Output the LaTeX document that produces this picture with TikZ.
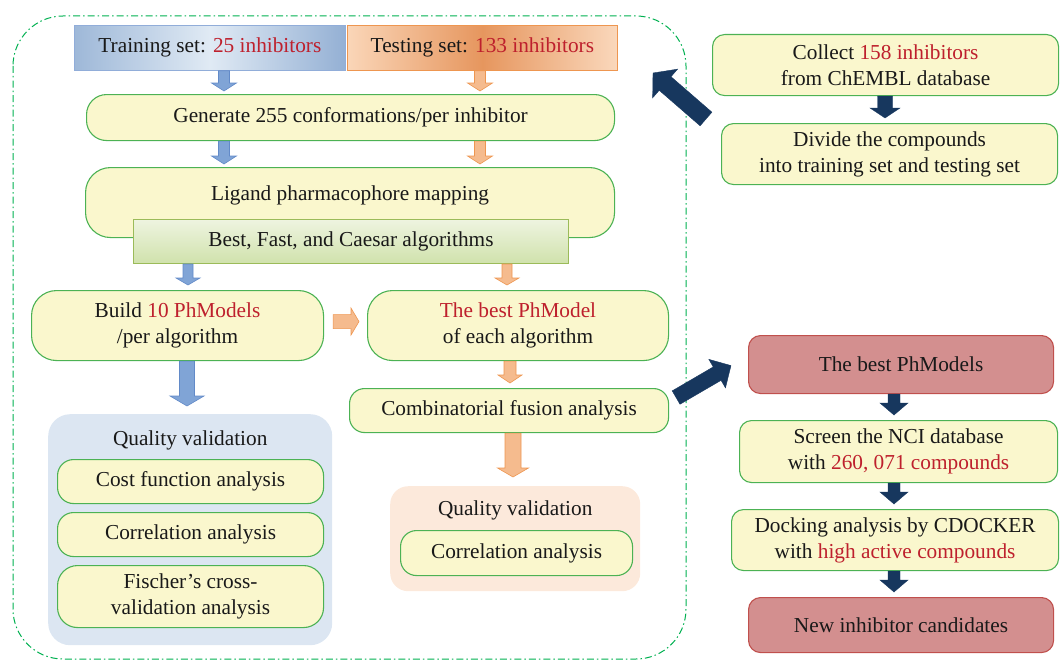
\documentclass[tikz,border=0pt]{standalone}
\usepackage{fontspec}
\setmainfont{Liberation Serif}
\usetikzlibrary{calc}
\definecolor{yfill}{RGB}{250,247,205}
\definecolor{gborder}{RGB}{76,178,84}
\definecolor{redtxt}{RGB}{190,32,45}
\definecolor{navy}{RGB}{23,55,94}
\definecolor{barrfill}{RGB}{128,164,214}
\definecolor{barredge}{RGB}{98,138,200}
\definecolor{oarrfill}{RGB}{245,187,142}
\definecolor{oarredge}{RGB}{238,150,80}
\definecolor{panelb}{RGB}{220,230,242}
\definecolor{panelo}{RGB}{252,233,219}
\definecolor{rfill}{RGB}{211,143,143}
\definecolor{rborder}{RGB}{192,80,77}
\definecolor{dashgreen}{RGB}{0,176,80}
\definecolor{txt}{RGB}{25,25,25}
\definecolor{tl}{RGB}{158,184,216}
\definecolor{tm}{RGB}{224,234,244}
\definecolor{tr}{RGB}{148,176,212}
\definecolor{ol}{RGB}{250,214,184}
\definecolor{om}{RGB}{230,150,94}
\definecolor{or}{RGB}{250,216,188}
\newcommand\redt[1]{\textcolor{redtxt}{#1}}
% block arrow: style, from, to, shaft width, head width, head length
\newcommand\barrow[6]{%
  \path let \p1=(#2), \p2=(#3), \n1={atan2(\y2-\y1,\x2-\x1)}, \n2={veclen(\x2-\x1,\y2-\y1)} in
    \pgfextra{\xdef\baA{\n1}\xdef\baL{\n2}\xdef\baX{\x1}\xdef\baY{\y1}};
  \draw[#1, shift={(\baX,\baY)}, rotate=\baA]
    (0pt,{-0.5*#4pt}) -- ({\baL-#6pt},{-0.5*#4pt}) -- ({\baL-#6pt},{-0.5*#5pt})
    -- (\baL,0pt) -- ({\baL-#6pt},{0.5*#5pt}) -- ({\baL-#6pt},{0.5*#4pt})
    -- (0pt,{0.5*#4pt}) -- cycle;}
\tikzset{
  txtstyle/.style={font=\fontsize{21.3}{26}\selectfont, text=txt, align=center},
  box/.style={txtstyle, draw=gborder, fill=yfill, line width=1.1pt, inner sep=0pt,
    anchor=north west, rounded corners=#1},
  box/.default=12pt,
  redbox/.style={txtstyle, draw=rborder, fill=rfill, line width=1.1pt, inner sep=0pt,
    anchor=north west, rounded corners=12pt},
  panel/.style={fill=#1, inner sep=0pt, anchor=north west, rounded corners=22pt},
  blueA/.style={fill=barrfill, draw=barredge, line width=0.6pt},
  orangeA/.style={fill=oarrfill, draw=oarredge, line width=0.6pt},
  navyA/.style={fill=navy, draw=navy, line width=0.4pt},
}
\begin{document}
\begin{tikzpicture}[x=1pt,y=-1pt]
\useasboundingbox (0,0) rectangle (1060,661);
% dash-dot frame
\draw[dashgreen, line width=1pt, dash pattern=on 7pt off 3pt on 1.5pt off 3pt, rounded corners=50pt]
  (13,16) rectangle (686,659);

% top sets
\node[txtstyle, draw=barredge!70, line width=0.8pt, inner sep=0pt, anchor=north west,
  minimum width=271pt, minimum height=45pt,
  left color=tl, right color=tr, middle color=tm] (train) at (74,25)
  {Training set: \redt{25 inhibitors}};
\node[txtstyle, draw=oarredge, line width=0.8pt, inner sep=0pt, anchor=north west,
  minimum width=270pt, minimum height=45pt,
  left color=ol, right color=or, middle color=om] (test) at (347,25)
  {Testing set: \redt{133 inhibitors}};

\node[box=20pt, minimum width=528pt, minimum height=46pt] (gen) at (86,94)
  {Generate 255 conformations/per inhibitor};
\node[box=25pt, minimum width=529pt, minimum height=70pt] (lig) at (85,167) {};
\node[txtstyle] at ($(lig.north)+(0,28)$) {Ligand pharmacophore mapping};
\node[txtstyle, draw={rgb,255:red,155;green,187;blue,89}, line width=1pt, inner sep=0pt,
  anchor=north west, minimum width=435pt, minimum height=44pt,
  top color={rgb,255:red,238;green,244;blue,224}, bottom color={rgb,255:red,208;green,226;blue,172}]
  (bfc) at (133,219) {Best, Fast, and Caesar algorithms};

\node[box=25pt, minimum width=292pt, minimum height=70pt] (build) at (31,290)
  {Build \redt{10 PhModels}\\/per algorithm};
\node[box=25pt, minimum width=301pt, minimum height=70pt] (best) at (367,290)
  {\redt{The best PhModel}\\of each algorithm};
\node[box=15pt, minimum width=319pt, minimum height=44pt] (comb) at (349,388)
  {Combinatorial fusion analysis};

% left quality panel
\node[panel=panelb, minimum width=284pt, minimum height=231pt] (qv1) at (48,414) {};
\node[txtstyle] at ($(qv1.north)+(0,26)$) {Quality validation};
\node[box=16pt, minimum width=266pt, minimum height=44pt] (cost) at (57,459) {Cost function analysis};
\node[box=16pt, minimum width=266pt, minimum height=44pt] (corr1) at (57,512) {Correlation analysis};
\node[box=20pt, minimum width=266pt, minimum height=62pt] (fisch) at (57,565)
  {Fischer’s cross-\\validation analysis};

% right quality panel
\node[panel=panelo, rounded corners=18pt, minimum width=250pt, minimum height=105pt] (qv2) at (390,486) {};
\node[txtstyle] at ($(qv2.north)+(0,24)$) {Quality validation};
\node[box=16pt, minimum width=232pt, minimum height=45pt] (corr2) at (400,530) {Correlation analysis};

% right column
\node[box, minimum width=346pt, minimum height=61pt] (collect) at (712,34)
  {Collect \redt{158 inhibitors}\\from ChEMBL database};
\node[box, minimum width=336pt, minimum height=61pt] (divide) at (721,123)
  {Divide the compounds\\into training set and testing set};
\node[redbox, minimum width=305pt, minimum height=58pt] (bestm) at (748,335) {The best PhModels};
\node[box, minimum width=318pt, minimum height=62pt] (screen) at (739,420)
  {Screen the NCI database\\with \redt{260, 071 compounds}};
\node[box, minimum width=327pt, minimum height=61pt] (dock) at (731,509)
  {Docking analysis by CDOCKER\\with \redt{high active compounds}};
\node[redbox, minimum width=305pt, minimum height=55pt] (newinh) at (748,597) {New inhibitor candidates};

% x positions of vertical arrows
\coordinate (xa) at (224,0);
\coordinate (xb) at (480,0);
\coordinate (xc) at (188,0);
\coordinate (xd) at (507,0);
\coordinate (xe) at (510,0);
\coordinate (xf) at (187,0);
\coordinate (xg) at (513,0);
\coordinate (xh) at (885,0);
\coordinate (xi) at (894,0);
\coordinate (tipA) at (653,73);

\barrow{blueA}{xa |- train.south}{$(xa |- gen.north)+(0,-3)$}{11}{25}{8}
\barrow{orangeA}{xb |- test.south}{$(xb |- gen.north)+(0,-3)$}{11}{25}{8}
\barrow{blueA}{xa |- gen.south}{$(xa |- lig.north)+(0,-3)$}{11}{25}{8}
\barrow{orangeA}{xb |- gen.south}{$(xb |- lig.north)+(0,-3)$}{11}{25}{8}
\barrow{blueA}{xc |- bfc.south}{$(xc |- build.north)+(0,-5)$}{10}{24}{7}
\barrow{orangeA}{xd |- bfc.south}{$(xd |- best.north)+(0,-5)$}{10}{24}{7}
\barrow{orangeA}{$(build.east)+(9,-4)$}{$(best.west)+(-8,-4)$}{14}{27}{8}
\barrow{orangeA}{xe |- best.south}{$(xe |- comb.north)+(0,-5)$}{12}{24}{8}
\barrow{blueA}{xf |- build.south}{$(xf |- qv1.north)+(0,-8)$}{15}{34}{10}
\barrow{orangeA}{xg |- comb.south}{$(xg |- qv2.north)+(0,-9)$}{16}{31}{9}
\barrow{navyA}{xh |- collect.south}{$(xh |- divide.north)+(0,-5)$}{15}{30}{10}
\barrow{navyA}{xi |- bestm.south}{$(xi |- screen.north)+(0,-5)$}{12}{28}{12}
\barrow{navyA}{xi |- screen.south}{$(xi |- dock.north)+(0,-5)$}{12}{28}{12}
\barrow{navyA}{xi |- dock.south}{$(xi |- newinh.north)+(0,-5)$}{12}{28}{12}
\barrow{navyA}{$(divide.north west)+(-15,-4)$}{tipA}{18}{38}{16}
\barrow{navyA}{$(comb.east)+(7,-13)$}{$(bestm.west)+(-17,1)$}{15.5}{33}{16}
\end{tikzpicture}
\end{document}
